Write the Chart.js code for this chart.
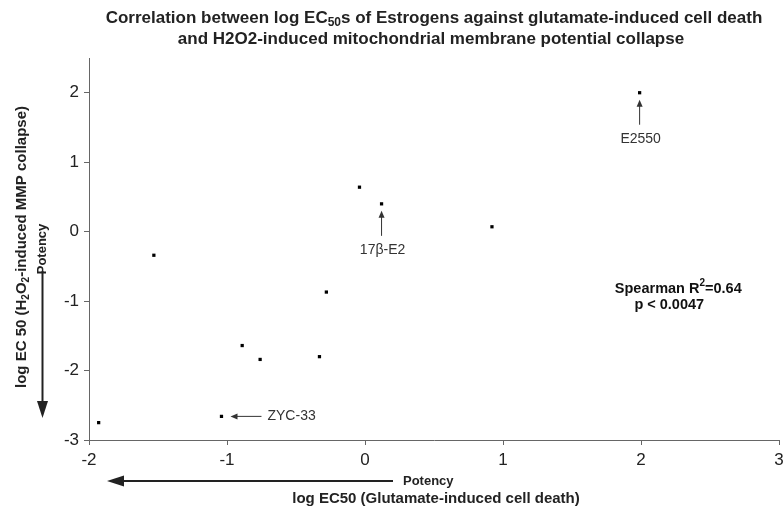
<!DOCTYPE html>
<html>
<head>
<meta charset="utf-8">
<script src="https://cdn.jsdelivr.net/npm/chart.js@4/dist/chart.umd.min.js"></script>
<style>
  html, body { margin: 0; padding: 0; background: #ffffff; }
  #wrap { width: 783px; height: 518px; position: relative; }
</style>
</head>
<body>
<div id="wrap"><canvas id="c" width="783" height="518"></canvas></div>
<script>
// ---- data ----
const glutamateLogEC50 = [-1.93, -1.53, -1.04, -0.89, -0.76, -0.33, -0.28, -0.04, 0.12, 0.92, 1.99];
const mmpLogEC50       = [-2.75, -0.34, -2.66, -1.64, -1.84, -1.80, -0.87, 0.64, 0.40, 0.07, 2.00];
const xTicks = [-2, -1, 0, 1, 2, 3];
const yTicks = [-3, -2, -1, 0, 1, 2];
const annotationLabels = ['E2550', '17\u03B2-E2', 'ZYC-33'];
const annotationIndex  = [10, 8, 2];
const annotationSide   = ['below', 'below', 'right'];
const statLines = ['Spearman R', '=0.64', 'p < 0.0047'];

const FONT = '"Liberation Sans", Arial, Helvetica, sans-serif';

const points = glutamateLogEC50.map((x, i) => ({ x: x, y: mmpLogEC50[i] }));

function arrowHead(ctx, x, y, dir, size, w) {
  ctx.beginPath();
  if (dir === 'up') { ctx.moveTo(x, y); ctx.lineTo(x - w, y + size); ctx.lineTo(x + w, y + size); }
  if (dir === 'down') { ctx.moveTo(x, y); ctx.lineTo(x - w, y - size); ctx.lineTo(x + w, y - size); }
  if (dir === 'left') { ctx.moveTo(x, y); ctx.lineTo(x + size, y - w); ctx.lineTo(x + size, y + w); }
  ctx.closePath(); ctx.fill();
}

const decor = {
  id: 'decor',
  afterDraw(chart) {
    const ctx = chart.ctx, xs = chart.scales.x, ys = chart.scales.y, ca = chart.chartArea;
    ctx.save();
    ctx.fillStyle = '#222'; ctx.strokeStyle = '#222';
    // Title with subscript
    const cx = (ca.left + ca.right) / 2;
    ctx.textBaseline = 'middle';
    const big = 'bold 17px ' + FONT, small = 'bold 12px ' + FONT;
    const a = 'Correlation between log EC', b = '50', c = 's of Estrogens against glutamate-induced cell death';
    ctx.font = big; const wa = ctx.measureText(a).width, wc = ctx.measureText(c).width;
    ctx.font = small; const wb = ctx.measureText(b).width;
    let x0 = cx - (wa + wb + wc) / 2;
    ctx.textAlign = 'left';
    ctx.font = big; ctx.fillText(a, x0, 18);
    ctx.font = small; ctx.fillText(b, x0 + wa, 23);
    ctx.font = big; ctx.fillText(c, x0 + wa + wb, 18);
    ctx.textAlign = 'center';
    ctx.fillText('and H2O2-induced mitochondrial membrane potential collapse', cx - 3, 39);

    // Y axis title (rotated) with subscripts
    ctx.save();
    ctx.translate(22, 247); ctx.rotate(-Math.PI / 2);
    const mainF = 'bold 15px ' + FONT, subF = 'bold 10px ' + FONT;
    const parts = [['log EC 50 (H', mainF], ['2', subF], ['O', mainF], ['2', subF], ['-induced MMP collapse)', mainF]];
    let tw = 0; parts.forEach(p => { ctx.font = p[1]; tw += ctx.measureText(p[0]).width; });
    let px = -tw / 2; ctx.textAlign = 'left';
    parts.forEach(p => { ctx.font = p[1]; ctx.fillText(p[0], px, p[1] === subF ? 4 : 0); px += ctx.measureText(p[0]).width; });
    // Potency (rotated)
    ctx.font = 'bold 13px ' + FONT; ctx.textAlign = 'center';
    ctx.fillText('Potency', -2, 20);
    ctx.restore();
    // vertical potency arrow
    ctx.lineWidth = 2;
    ctx.beginPath(); ctx.moveTo(42.5, 271); ctx.lineTo(42.5, 402); ctx.stroke();
    arrowHead(ctx, 42.5, 418, 'down', 17, 5.5);

    // X axis: potency arrow + title
    ctx.font = 'bold 13px ' + FONT; ctx.textAlign = 'left';
    ctx.fillText('Potency', 403, 481);
    ctx.beginPath(); ctx.moveTo(393, 481); ctx.lineTo(122, 481); ctx.stroke();
    arrowHead(ctx, 107, 481, 'left', 17, 5.5);
    ctx.font = 'bold 15px ' + FONT; ctx.textAlign = 'center';
    ctx.fillText('log EC50 (Glutamate-induced cell death)', 436, 499);

    // Point annotations
    ctx.lineWidth = 1; ctx.strokeStyle = '#333'; ctx.fillStyle = '#333';
    ctx.font = '14px ' + FONT;
    annotationLabels.forEach((lab, k) => {
      const i = annotationIndex[k];
      const px = xs.getPixelForValue(glutamateLogEC50[i]);
      const py = ys.getPixelForValue(mmpLogEC50[i]);
      if (annotationSide[k] === 'below') {
        ctx.beginPath(); ctx.moveTo(px, py + 32); ctx.lineTo(px, py + 12); ctx.stroke();
        arrowHead(ctx, px, py + 7, 'up', 7, 3);
        ctx.textAlign = 'center';
        ctx.fillText(lab, px + 1, py + 46);
      } else {
        ctx.beginPath(); ctx.moveTo(px + 40, py); ctx.lineTo(px + 14, py); ctx.stroke();
        arrowHead(ctx, px + 9, py, 'left', 7, 3);
        ctx.textAlign = 'left';
        ctx.fillText(lab, px + 46, py);
      }
    });

    // Spearman statistic
    ctx.fillStyle = '#111';
    const sx = xs.getPixelForValue(2.27), sy = ys.getPixelForValue(-0.82);
    const sF = 'bold 14.5px ' + FONT, sSub = 'bold 10px ' + FONT;
    ctx.font = sF;
    const w1 = ctx.measureText(statLines[0]).width, w3 = ctx.measureText(statLines[1]).width;
    ctx.font = sSub; const w2 = ctx.measureText('2').width;
    let s0 = sx - (w1 + w2 + w3) / 2;
    ctx.textAlign = 'left';
    ctx.font = sF; ctx.fillText(statLines[0], s0, sy);
    ctx.font = sSub; ctx.fillText('2', s0 + w1, sy - 5);
    ctx.font = sF; ctx.fillText(statLines[1], s0 + w1 + w2, sy);
    ctx.textAlign = 'center';
    ctx.fillText(statLines[2], sx - 9, sy + 16);
    ctx.restore();
  }
};

new Chart(document.getElementById('c'), {
  type: 'scatter',
  data: {
    datasets: [{
      data: points,
      pointStyle: 'rect',
      pointRadius: 2.3,
      pointHoverRadius: 2.3,
      backgroundColor: '#000',
      borderColor: '#000',
      borderWidth: 0
    }]
  },
  options: {
    responsive: false,
    animation: false,
    devicePixelRatio: 1,
    layout: { padding: { top: 58, right: 4, left: 0, bottom: 0 } },
    plugins: { legend: { display: false }, tooltip: { enabled: false }, title: { display: false } },
    scales: {
      x: {
        type: 'linear', min: -2, max: 3,
        afterBuildTicks: s => { s.ticks = xTicks.map(v => ({ value: v })); },
        afterFit: s => { s.height = 78; s.paddingRight = 0; s.paddingLeft = 0; },
        grid: { drawOnChartArea: false, drawTicks: true, tickLength: 5, color: '#666' },
        border: { color: '#666', width: 1 },
        ticks: { color: '#222', font: { family: FONT, size: 17 }, padding: 5, maxRotation: 0 }
      },
      y: {
        type: 'linear', min: -3, max: 2.5,
        afterBuildTicks: s => { s.ticks = yTicks.map(v => ({ value: v })); },
        afterFit: s => { s.width = 89; },
        grid: { drawOnChartArea: false, drawTicks: true, tickLength: 5, color: '#666' },
        border: { color: '#666', width: 1 },
        ticks: { color: '#222', font: { family: FONT, size: 17 }, padding: 5 }
      }
    }
  },
  plugins: [decor]
});
</script>
</body>
</html>
